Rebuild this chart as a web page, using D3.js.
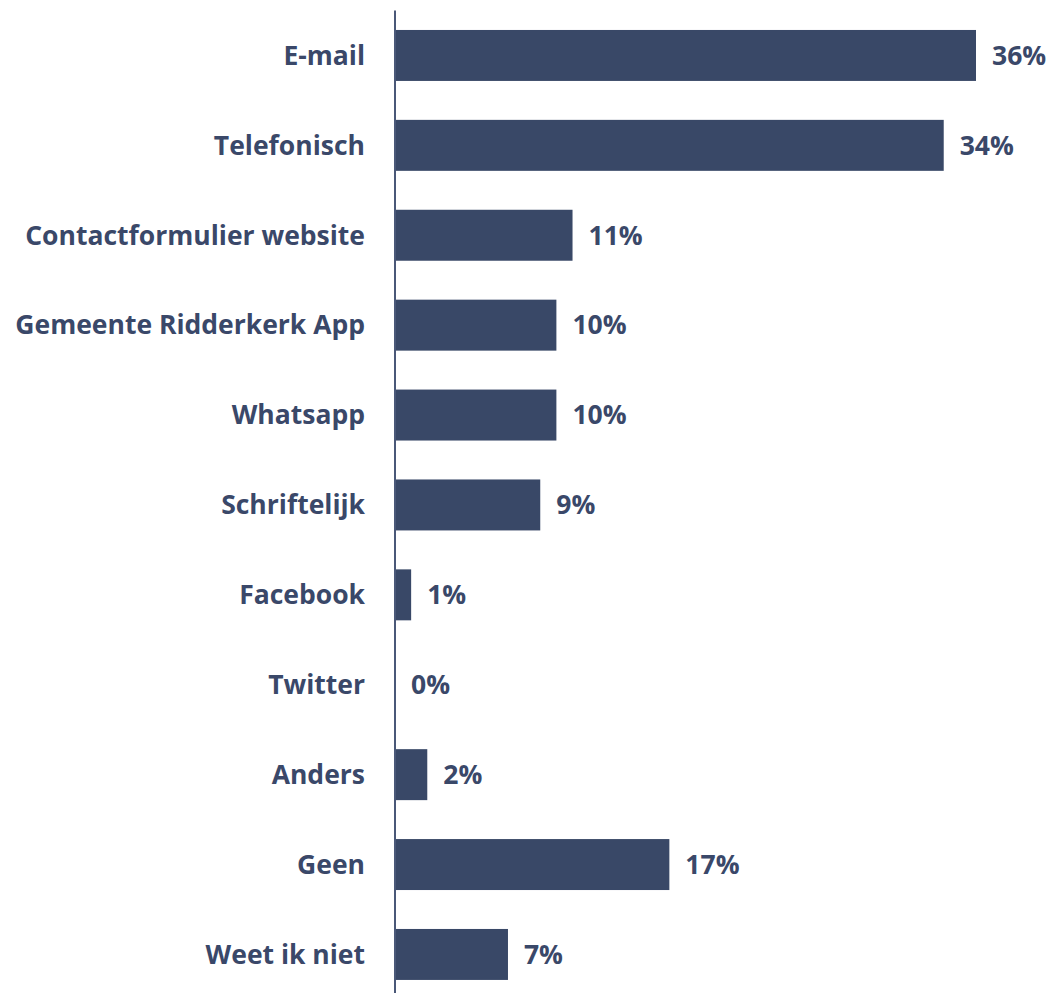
<!DOCTYPE html>
<html>
<head>
<meta charset="utf-8">
<script src="https://cdn.jsdelivr.net/npm/d3@7/dist/d3.min.js"></script>
<style>
  html, body { margin: 0; padding: 0; background: #ffffff; }
  svg { display: block; }
  text { font-family: "Open Sans", Lato, sans-serif; font-weight: 700; fill: #3a4869; }
</style>
</head>
<body>
<svg id="chart" width="1055" height="993"></svg>
<script>
// Contactkanalen en aandeel respondenten (%)
const categories = [
  "E-mail", "Telefonisch", "Contactformulier website", "Gemeente Ridderkerk App",
  "Whatsapp", "Schriftelijk", "Facebook", "Twitter", "Anders", "Geen", "Weet ik niet"
];
const values = [36, 34, 11, 10, 10, 9, 1, 0, 2, 17, 7];

const svg = d3.select("#chart");
const axisX = 395;
const fontStack = "'Open Sans', Lato, sans-serif";
const fontSize = 26.5;

const x = d3.scaleLinear()
  .domain([0, 36])
  .range([axisX, axisX + 581]);

const y = d3.scaleBand()
  .domain(categories)
  .range([10.5, 999.4])
  .paddingInner(0.433)
  .paddingOuter(0.2165);

const rows = categories.map((c, i) => ({ cat: c, val: values[i] }));

// bars
svg.append("g")
  .selectAll("rect")
  .data(rows)
  .join("rect")
  .attr("x", x(0))
  .attr("y", d => y(d.cat))
  .attr("width", d => x(d.val) - x(0))
  .attr("height", y.bandwidth())
  .attr("fill", "#394867");

// category labels via a left axis without ticks or domain
const yAxis = svg.append("g")
  .attr("transform", `translate(${axisX},0)`)
  .call(d3.axisLeft(y).tickSize(0).tickPadding(30));
yAxis.select(".domain").remove();
yAxis.selectAll("text")
  .attr("font-size", fontSize)
  .attr("dy", "0.35em")
  .style("font-family", fontStack)
  .style("font-weight", 700)
  .attr("fill", "#3a4869");

// vertical baseline
svg.append("line")
  .attr("x1", axisX).attr("x2", axisX)
  .attr("y1", 10.5).attr("y2", 993)
  .attr("stroke", "#4a5878")
  .attr("stroke-width", 2);

// value labels
svg.append("g")
  .selectAll("text")
  .data(rows)
  .join("text")
  .attr("x", d => x(d.val) + 16)
  .attr("y", d => y(d.cat) + y.bandwidth() / 2)
  .attr("dy", "0.35em")
  .attr("font-size", fontSize)
  .text(d => d.val + "%");
</script>
</body>
</html>
